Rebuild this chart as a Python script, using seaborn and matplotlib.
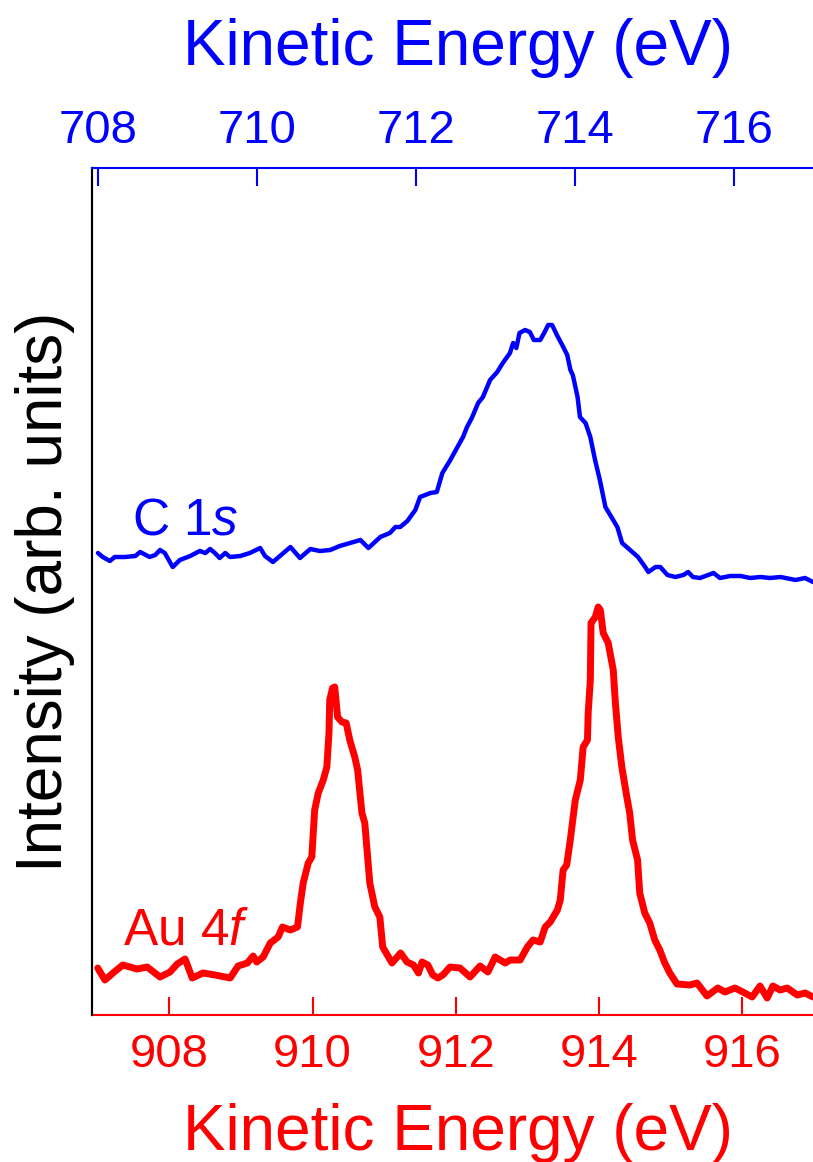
import matplotlib
matplotlib.use("Agg")
import matplotlib.pyplot as plt
import seaborn as sns

# C 1s spectrum (top axis, kinetic energy in eV)
c1s_energy = [708.00, 708.06, 708.15, 708.21, 708.34, 708.47, 708.53, 708.65, 708.72, 708.78,
              708.84, 708.94, 709.03, 709.16, 709.28, 709.35, 709.41, 709.47, 709.53, 709.60,
              709.66, 709.79, 709.91, 710.04, 710.10, 710.20, 710.42, 710.54, 710.67, 710.79,
              710.92, 711.04, 711.17, 711.30, 711.40, 711.55, 711.67, 711.74, 711.80, 711.89,
              711.99, 712.05, 712.18, 712.26, 712.33, 712.43, 712.52, 712.59, 712.64, 712.70,
              712.78, 712.84, 712.93, 713.02, 713.09, 713.18, 713.22, 713.26, 713.30, 713.37,
              713.43, 713.48, 713.56, 713.61, 713.66, 713.71, 713.77, 713.85, 713.90, 713.94,
              713.97, 714.03, 714.06, 714.13, 714.19, 714.25, 714.31, 714.38, 714.44, 714.53,
              714.59, 714.69, 714.79, 714.88, 714.92, 715.01, 715.07, 715.16, 715.26, 715.36,
              715.42, 715.48, 715.57, 715.74, 715.82, 715.95, 716.08, 716.20, 716.33, 716.45,
              716.58, 716.77, 716.89, 716.99]
c1s_intensity = [462, 458, 454, 458, 458, 459, 463, 458, 460, 465,
                 462, 448, 455, 459, 464, 462, 466, 462, 457, 462,
                 458, 459, 462, 467, 459, 453, 468, 457, 466, 464,
                 465, 469, 472, 475, 467, 478, 482, 488, 488, 494,
                 505, 518, 522, 523, 542, 555, 568, 578, 588, 597,
                 612, 618, 635, 643, 652, 662, 672, 667, 682, 685,
                 683, 675, 675, 682, 690, 690, 680, 668, 660, 645,
                 640, 618, 598, 592, 578, 555, 535, 508, 500, 488,
                 472, 465, 458, 448, 443, 448, 448, 440, 438, 440,
                 443, 438, 437, 442, 437, 439, 439, 437, 438, 437,
                 438, 435, 437, 433]

# Au 4f spectrum (bottom axis, kinetic energy in eV)
au4f_energy = [907.00, 907.10, 907.23, 907.35, 907.55, 907.69, 907.87, 908.01, 908.11, 908.22,
               908.32, 908.47, 908.64, 908.85, 908.96, 909.09, 909.17, 909.22, 909.31, 909.41,
               909.52, 909.58, 909.69, 909.79, 909.83, 909.87, 909.94, 909.99, 910.03, 910.08,
               910.15, 910.20, 910.23, 910.24, 910.28, 910.31, 910.35, 910.41, 910.47, 910.52,
               910.59, 910.63, 910.69, 910.73, 910.80, 910.87, 910.94, 910.98, 911.11, 911.23,
               911.32, 911.41, 911.48, 911.53, 911.61, 911.68, 911.75, 911.82, 911.92, 912.06,
               912.20, 912.34, 912.45, 912.55, 912.69, 912.76, 912.90, 913.00, 913.08, 913.18,
               913.25, 913.32, 913.42, 913.46, 913.50, 913.55, 913.60, 913.67, 913.74, 913.78,
               913.84, 913.85, 913.88, 913.89, 913.95, 913.99, 914.02, 914.06, 914.13, 914.20,
               914.23, 914.27, 914.32, 914.39, 914.43, 914.47, 914.54, 914.57, 914.64, 914.71,
               914.78, 914.85, 914.92, 914.99, 915.09, 915.27, 915.37, 915.51, 915.66, 915.76,
               915.90, 916.01, 916.14, 916.25, 916.35, 916.43, 916.53, 916.63, 916.77, 916.88,
               916.99]
au4f_intensity = [47, 35, 43, 50, 46, 48, 38, 43, 51, 56,
                  37, 42, 40, 37, 49, 52, 59, 53, 58, 72,
                  78, 88, 85, 88, 112, 132, 152, 158, 205, 222,
                  235, 248, 282, 315, 327, 328, 298, 293, 292, 275,
                  258, 245, 202, 192, 132, 108, 98, 68, 52, 62,
                  53, 50, 42, 53, 50, 40, 37, 40, 48, 47,
                  38, 49, 43, 58, 52, 55, 55, 68, 75, 73,
                  88, 93, 105, 115, 145, 150, 175, 215, 235, 268,
                  275, 302, 335, 392, 398, 408, 405, 382, 372, 345,
                  312, 278, 248, 218, 202, 175, 155, 122, 102, 92,
                  75, 65, 52, 42, 31, 30, 32, 19, 27, 23,
                  27, 23, 18, 29, 17, 29, 25, 27, 20, 22,
                  18]

bottom_ticks = [908, 910, 912, 914, 916]
top_ticks = [708, 710, 712, 714, 716]

sns.set_style("white")
plt.rcParams['font.family'] = ['Liberation Sans', 'DejaVu Sans']
plt.rcParams['mathtext.fontset'] = 'custom'
plt.rcParams['mathtext.rm'] = 'Liberation Sans'
plt.rcParams['mathtext.it'] = 'Liberation Sans:italic'

RED = '#ff0000'
BLUE = '#0000ff'

fig = plt.figure(figsize=(8.13, 11.62), dpi=100)
ax = fig.add_axes([92 / 813, 1 - 1015 / 1162, 1 - 92 / 813, 847 / 1162])

sns.lineplot(x=au4f_energy, y=au4f_intensity, ax=ax, color=RED, lw=5,
             sort=False, estimator=None)
ax.set_xlim(906.92, 916.99)
ax.set_ylim(0, 847)
ax.set_xticks(bottom_ticks)
ax.set_yticks([])
ax.tick_params(axis='x', direction='in', length=13, width=1.5, color=RED,
               labelcolor=RED, labelsize=34, pad=13, bottom=True, top=False)
ax.set_xlabel('Kinetic Energy (eV)', fontsize=46, color=RED)
ax.xaxis.label.set_va('baseline')
ax.xaxis.label.set_ha('left')
ax.xaxis.set_label_coords(0.126, -0.1594)
ax.set_ylabel('Intensity (arb. units)', fontsize=46, color='black')
ax.yaxis.label.set_va('baseline')
ax.yaxis.set_label_coords(-0.0416, 0.5)

ax_top = ax.twiny()
sns.lineplot(x=c1s_energy, y=c1s_intensity, ax=ax_top, color=BLUE, lw=3.2,
             sort=False, estimator=None)
ax_top.set_xlim(707.925, 716.99)
ax_top.set_xticks(top_ticks)
ax_top.tick_params(axis='x', direction='in', length=13, width=1.5, color=BLUE,
                   labelcolor=BLUE, labelsize=34, pad=11, top=True, bottom=False,
                   labeltop=True, labelbottom=False)
ax_top.xaxis.set_label_position('top')
ax_top.set_xlabel('Kinetic Energy (eV)', fontsize=46, color=BLUE)
ax_top.xaxis.label.set_va('baseline')
ax_top.xaxis.label.set_ha('left')
ax_top.xaxis.set_label_coords(0.126, 1.1216)

for a in (ax, ax_top):
    a.spines['right'].set_visible(False)
    a.spines['left'].set_color('black')
    a.spines['left'].set_linewidth(1.5)
ax.spines['top'].set_visible(False)
ax.spines['bottom'].set_color(RED)
ax.spines['bottom'].set_linewidth(1.5)
ax_top.spines['bottom'].set_visible(False)
ax_top.spines['top'].set_color(BLUE)
ax_top.spines['top'].set_linewidth(1.5)

ax.text(0.055, 0.567, r'C 1$\it{s}$', transform=ax.transAxes, color=BLUE,
        fontsize=37, va='baseline', ha='left')
ax.text(0.043, 0.083, r'Au 4$\it{f}$', transform=ax.transAxes, color=RED,
        fontsize=37, va='baseline', ha='left')

fig.savefig('out.png', dpi=100)
